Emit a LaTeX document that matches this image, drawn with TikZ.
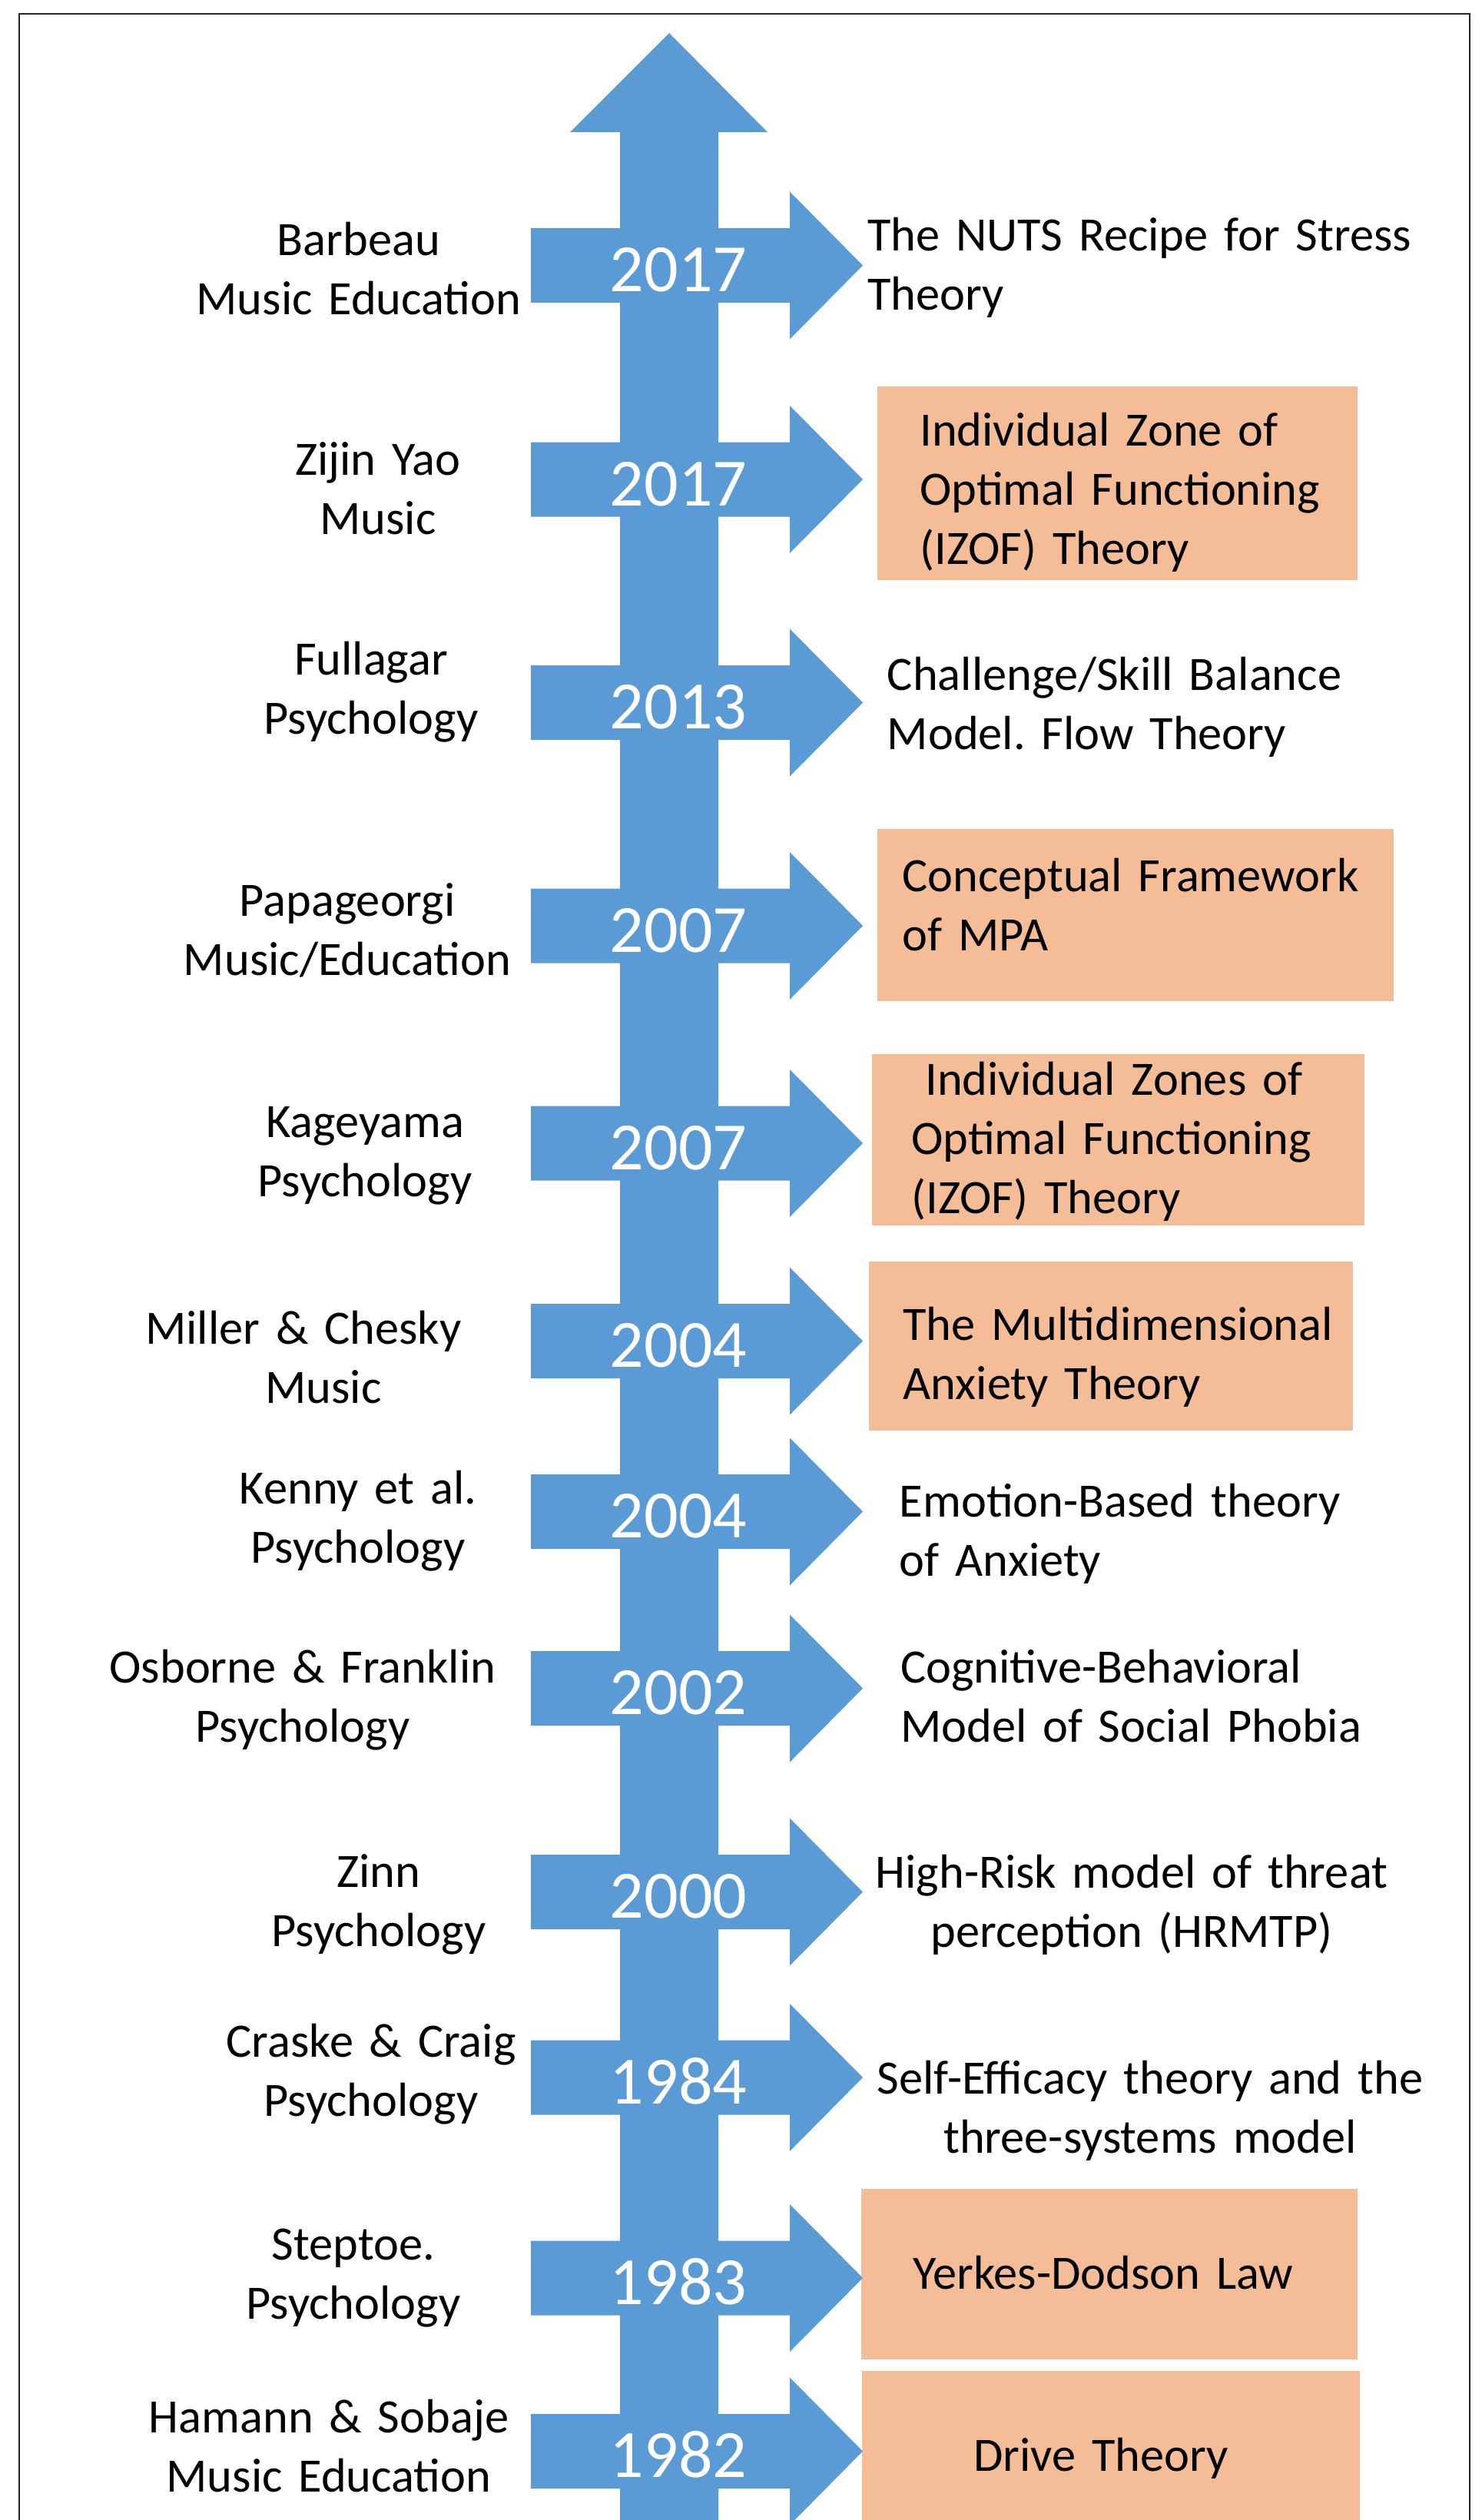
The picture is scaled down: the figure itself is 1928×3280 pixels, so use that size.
\documentclass[tikz,border=0pt]{standalone}
\usepackage{fontspec}
\setmainfont{Carlito}
\frenchspacing
\definecolor{tlblue}{RGB}{91,155,213}
\definecolor{tlpeach}{RGB}{245,189,151}
\begin{document}
\begin{tikzpicture}[x=0.5pt,y=-0.5pt,
  blueshape/.style={fill=tlblue},
  peachbox/.style={fill=tlpeach},
  framestyle/.style={line width=1.25pt,draw=black!85},
  bodyfont/.style={font=\fontsize{31.2pt}{38.5pt}\selectfont\frenchspacing},
  leftlabel/.style={bodyfont,anchor=base,inner sep=0pt,text width=350pt,align=center},
  rightlabel/.style={bodyfont,anchor=base west,inner sep=0pt,text width=400pt,align=left},
  rightcenter/.style={bodyfont,anchor=base,inner sep=0pt,text width=400pt,align=center},
  yearlabel/.style={anchor=base,inner sep=0pt,text=white,font=\fontsize{44pt}{50pt}\selectfont}]
\useasboundingbox (0,0) rectangle (1928,3280);
% frame
\draw[framestyle] (25,3290) -- (25,18) -- (1913,18) -- (1913,3290);
% peach boxes
\fill[peachbox] (1142,503) rectangle (1767,755);
\fill[peachbox] (1142,1079) rectangle (1814,1303);
\fill[peachbox] (1135,1372) rectangle (1776,1595);
\fill[peachbox] (1131,1642) rectangle (1761,1862);
\fill[peachbox] (1121,2849) rectangle (1767,3071);
\fill[peachbox] (1122,3086) rectangle (1770,3300);
% main vertical arrow
\fill[blueshape] (807,3300) -- (807,172) -- (742,172) -- (871,43) -- (999,172) -- (935,172) -- (935,3300) -- cycle;
% horizontal arrows and years
\foreach \c/\yr/\n in {345.5/2017/ya,624/2017/yb,914.5/2013/yc,1205/2007/yd,1488/2007/ye,1745.5/2004/yf,1967.5/2004/yg,2197.5/2002/yh,2462.5/2000/yi,2704/1984/yj,2965/1983/yk,3190.5/1982/yl}{
  \fill[blueshape] (691,{\c-48.5}) -- (1028,{\c-48.5}) -- (1028,{\c-96}) -- (1123,\c) -- (1028,{\c+96}) -- (1028,{\c+48.5}) -- (691,{\c+48.5}) -- cycle;
  \node[yearlabel] (\n) at (883,{\c+34}) {\yr};
}
% left labels
\node[leftlabel] (la) at (467,333) {Barbeau\\Music Education};
\node[leftlabel] (lb) at (492,618) {Zijin Yao\\Music};
\node[leftlabel] (lc) at (483,878) {Fullagar\\Psychology};
\node[leftlabel] (ld) at (452,1192) {Papageorgi\\Music/Education};
\node[leftlabel] (le) at (475,1480.6) {Kageyama\\Psychology};
\node[leftlabel] (lf) at (395,1749) {Miller \& Chesky\\\hspace*{26pt}Music};
\node[leftlabel] (lg) at (466,1957) {Kenny et al.\\Psychology};
\node[leftlabel] (lh) at (394,2190) {Osborne \& Franklin\\Psychology};
\node[leftlabel] (li) at (493,2456) {Zinn\\Psychology};
\node[leftlabel] (lj) at (483,2677) {Craske \& Craig\\Psychology};
\node[leftlabel] (lk) at (460,2941) {Steptoe.\\Psychology};
\node[leftlabel] (ll) at (428,3166) {Hamann \& Sobaje\\Music Education};
% right labels
\node[rightlabel] (ra) at (1129,327) {The NUTS Recipe for Stress\\Theory};
\node[rightlabel] (rb) at (1197,580) {Individual Zone of\\Optimal Functioning\\(IZOF) Theory};
\node[rightlabel] (rc) at (1154.5,898.5) {Challenge/Skill Balance\\Model. Flow Theory};
\node[rightlabel] (rd) at (1174,1160) {Conceptual Framework\\of MPA};
\node[rightlabel] (re) at (1186,1425) {\hspace*{9pt}Individual Zones of\\Optimal Functioning\\(IZOF) Theory};
\node[rightlabel] (rf) at (1175,1744) {The Multidimensional\\Anxiety Theory};
\node[rightlabel] (rg) at (1170.5,1974.7) {Emotion-Based theory\\of Anxiety};
\node[rightlabel] (rh) at (1171.7,2190) {Cognitive-Behavioral\\Model of Social Phobia};
\node[rightcenter] (ri) at (1473,2457) {High-Risk model of threat\\perception (HRMTP)};
\node[rightcenter] (rj) at (1497,2725) {Self-Efficacy theory and the\\three-systems model};
\node[rightcenter] (rk) at (1436,2979) {Yerkes-Dodson Law};
\node[rightcenter] (rl) at (1433,3216) {Drive Theory};
\end{tikzpicture}
\end{document}
